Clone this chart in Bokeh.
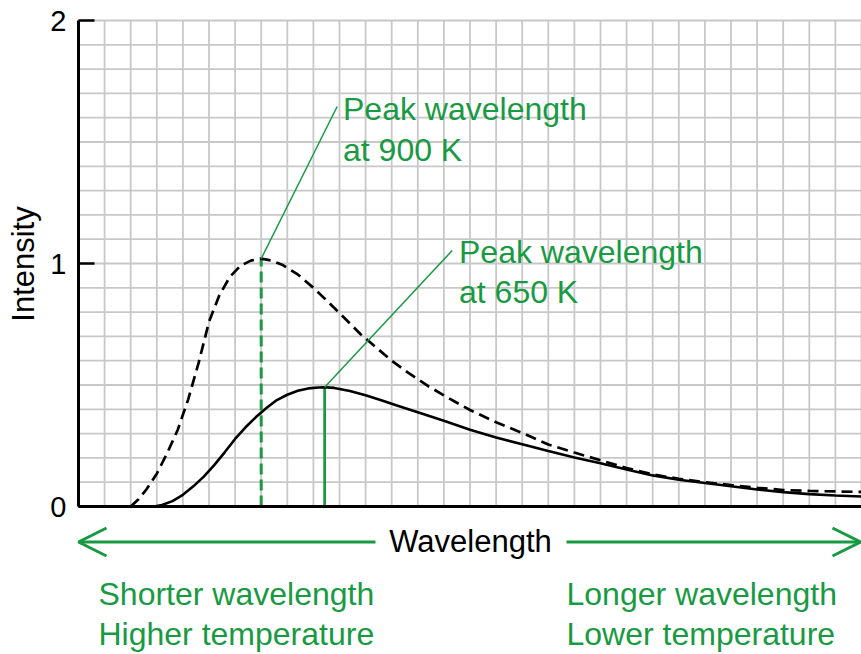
import math
from bokeh.plotting import figure
from bokeh.models import Range1d, Arrow, OpenHead
from bokeh.embed import file_html
from bokeh.resources import INLINE
from bokeh.core.properties import value

# ---- data ----
wl_900 = [2.0, 2.3, 2.6, 3.0, 3.4, 3.8, 4.2, 4.6, 5.0, 5.4, 5.8, 6.2, 6.6, 7.0, 7.4,
          7.8, 8.4, 9.0, 9.6, 10.2, 10.8, 11.4, 12.0, 12.6, 13.4, 14.2, 15.0, 16.0,
          17.0, 18.0, 19.0, 20.0, 21.0, 22.0, 23.0, 24.0, 25.0, 26.0, 27.0, 28.0,
          29.0, 30.0]
int_900 = [0.0, 0.03, 0.07, 0.135, 0.22, 0.315, 0.44, 0.59, 0.76, 0.87, 0.945, 0.99,
           1.012, 1.02, 1.012, 0.995, 0.955, 0.90, 0.838, 0.775, 0.71, 0.655, 0.60,
           0.553, 0.495, 0.445, 0.397, 0.347, 0.303, 0.255, 0.222, 0.19, 0.158, 0.132,
           0.114, 0.10, 0.088, 0.077, 0.068, 0.064, 0.062, 0.06]

wl_650 = [2.9, 3.2, 3.6, 4.0, 4.4, 4.8, 5.2, 5.6, 6.0, 6.4, 6.8, 7.2, 7.6, 8.0, 8.4,
          8.8, 9.2, 9.43, 9.8, 10.4, 11.0, 11.6, 12.2, 13.0, 14.0, 15.0, 16.0, 17.0,
          18.0, 19.0, 20.0, 21.0, 22.0, 23.0, 24.0, 25.0, 26.0, 27.0, 28.0, 29.0, 30.0]
int_650 = [0.0, 0.006, 0.022, 0.048, 0.083, 0.123, 0.17, 0.223, 0.278, 0.326, 0.368,
           0.405, 0.438, 0.46, 0.476, 0.486, 0.49, 0.491, 0.488, 0.475, 0.458, 0.437,
           0.416, 0.388, 0.353, 0.316, 0.284, 0.256, 0.228, 0.202, 0.178, 0.152, 0.128,
           0.11, 0.097, 0.083, 0.07, 0.059, 0.051, 0.045, 0.041]

y_ticks = [0, 1, 2]
y_tick_labels = ["0", "1", "2"]
x_grid = list(range(0, 31))
y_grid = [i / 10 for i in range(0, 21)]

label_900 = ["Peak wavelength", "at 900 K"]
label_650 = ["Peak wavelength", "at 650 K"]
axis_x_title = "Wavelength"
axis_y_title = "Intensity"
left_note = ["Shorter wavelength", "Higher temperature"]
right_note = ["Longer wavelength", "Lower temperature"]

# ---- layout (pixels on the 861x654 canvas) ----
W, H = 861, 654
X0_PX, X1_PX = 78, 861      # data x 0 .. 30
Y0_PX, Y2_PX = 506, 20      # data y 0 .. 2
XMAX, YMAX = 30, 2
PXU = (X1_PX - X0_PX) / XMAX
PYU = (Y0_PX - Y2_PX) / YMAX
TXT_SHIFT = 10  # baseline correction in px

def ux(px):
    return (px - X0_PX) / PXU

def vy(py):
    return (Y0_PX - py) / PYU

GREEN = "#189a42"
FONT = "Liberation Sans"

p = figure(width=W, height=H, x_range=Range1d(ux(0), ux(W)), y_range=Range1d(vy(H), vy(0)),
           output_backend="svg", toolbar_location=None,
           x_axis_location=None, y_axis_location=None,
           min_border_left=0, min_border_right=0, min_border_top=0, min_border_bottom=0)
p.outline_line_color = None
p.background_fill_color = "white"
p.border_fill_color = "white"
p.xgrid.visible = False
p.ygrid.visible = False

# grid
p.segment(x0=x_grid, y0=[0] * len(x_grid), x1=x_grid, y1=[YMAX] * len(x_grid),
          line_color="#c8c8c8", line_width=1.8)
p.segment(x0=[0] * len(y_grid), y0=y_grid, x1=[XMAX] * len(y_grid), y1=y_grid,
          line_color="#c8c8c8", line_width=1.8)

# peaks derived from data
i9 = max(range(len(int_900)), key=lambda i: int_900[i])
i6 = max(range(len(int_650)), key=lambda i: int_650[i])
px9, py9 = wl_900[i9], int_900[i9]
px6, py6 = wl_650[i6], int_650[i6]

# green peak markers
p.segment(x0=[px9], y0=[0], x1=[px9], y1=[py9], line_color=GREEN, line_width=3,
          line_dash="11 5")
p.segment(x0=[px6], y0=[0], x1=[px6], y1=[py6], line_color=GREEN, line_width=2.7)

# curves
p.line(wl_900, int_900, line_color="black", line_width=2.7, line_dash="11 6")
p.line(wl_650, int_650, line_color="black", line_width=2.6)

# axes
p.segment(x0=[0], y0=[0], x1=[0], y1=[YMAX], line_color="black", line_width=3)
p.segment(x0=[0], y0=[0], x1=[XMAX], y1=[0], line_color="black", line_width=3)
tick_len = ux(X0_PX + 16)
p.segment(x0=[0] * len(y_ticks), y0=y_ticks, x1=[tick_len] * len(y_ticks), y1=y_ticks,
          line_color="black", line_width=2.5)
p.text(x=[ux(66)] * len(y_ticks), y=y_ticks, text=y_tick_labels,
       text_font=value(FONT), text_font_size="29px", text_color="black",
       text_align="right", text_baseline="middle")

# leader lines
p.segment(x0=[px9], y0=[py9], x1=[ux(336.7)], y1=[vy(106)], line_color=GREEN, line_width=1.5)
p.segment(x0=[px6], y0=[py6], x1=[ux(451.7)], y1=[vy(250)], line_color=GREEN, line_width=1.5)

def txt(xs, ys, texts, color=GREEN, size="32px", align="left", angle=0.0):
    p.text(x=xs, y=ys, text=texts, text_font=value(FONT), text_font_size=size,
           text_color=color, text_align=align, text_baseline="alphabetic", angle=angle)

def base(py):
    return vy(py - TXT_SHIFT)

txt([ux(342.5)] * 2, [base(118.3), base(159)], label_900)
txt([ux(458.5)] * 2, [base(261.7), base(301.7)], label_650)

# y title (rotated; baseline runs vertically)
txt([ux(33 - TXT_SHIFT)], [vy(263.5)], [axis_y_title], color="black", size="31px",
    align="center", angle=math.pi / 2)

# wavelength arrow
ay = vy(541.5)
p.add_layout(Arrow(end=OpenHead(size=28, line_color=GREEN, line_width=3),
                   x_start=ux(375), y_start=ay, x_end=ux(78), y_end=ay,
                   line_color=GREEN, line_width=3))
p.add_layout(Arrow(end=OpenHead(size=28, line_color=GREEN, line_width=3),
                   x_start=ux(566), y_start=ay, x_end=ux(860), y_end=ay,
                   line_color=GREEN, line_width=3))
txt([ux(470)], [base(550.5)], [axis_x_title], color="black", size="31px", align="center")

txt([ux(98)] * 2, [base(603), base(643)], left_note)
txt([ux(566)] * 2, [base(603), base(643)], right_note)

open("out.html", "w").write(file_html(p, INLINE))
